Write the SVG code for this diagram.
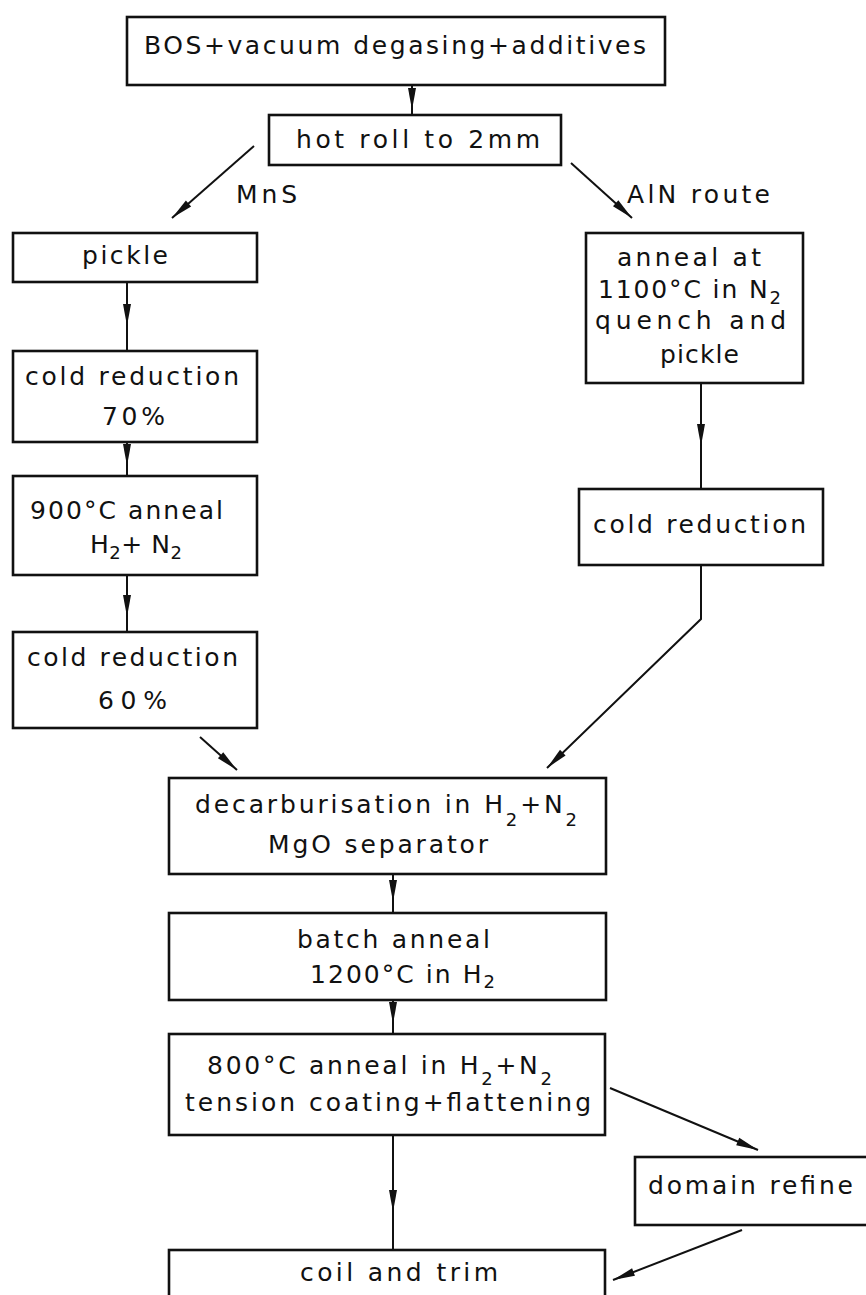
<svg xmlns="http://www.w3.org/2000/svg" width="866" height="1295" viewBox="0 0 866 1295">
<defs>
<style>
.box{fill:none;stroke:#111;stroke-width:2.6}
.con{fill:none;stroke:#111;stroke-width:2}
.t{font-family:"DejaVu Sans","Liberation Sans",sans-serif;font-size:25px;fill:#111}
.s{font-size:18px}
</style>
<marker id="ah" viewBox="-24 -5 26 10" refX="0" refY="0" markerWidth="26" markerHeight="10" markerUnits="userSpaceOnUse" orient="auto">
<path d="M-22,-4 L0,0 L-22,4 Z" fill="#111"/>
</marker>
</defs>
<rect width="866" height="1295" fill="#fff"/>

<g id="connectors">
<path class="con" d="M412,85 L412,110 L412,115" marker-mid="url(#ah)"/>
<path class="con" d="M254,146 L172,218" marker-end="url(#ah)"/>
<path class="con" d="M571,163 L632,218" marker-end="url(#ah)"/>
<path class="con" d="M127,282 L127,326 L127,351" marker-mid="url(#ah)"/>
<path class="con" d="M127,442 L127,466 L127,476" marker-mid="url(#ah)"/>
<path class="con" d="M127,575 L127,617 L127,632" marker-mid="url(#ah)"/>
<path class="con" d="M200,737 L237,770" marker-end="url(#ah)"/>
<path class="con" d="M701,383 L701,446 L701,489" marker-mid="url(#ah)"/>
<path class="con" d="M701,565 L701,619 L547,768" marker-end="url(#ah)"/>
<path class="con" d="M393,874 L393,902 L393,913" marker-mid="url(#ah)"/>
<path class="con" d="M393,1000 L393,1024 L393,1034" marker-mid="url(#ah)"/>
<path class="con" d="M393,1135 L393,1212 L393,1250" marker-mid="url(#ah)"/>
<path class="con" d="M610,1088 L758,1150" marker-end="url(#ah)"/>
<path class="con" d="M742,1230 L613,1280" marker-end="url(#ah)"/>
</g>

<g id="bos">
<rect class="box" x="127" y="17" width="538" height="68"/>
<text class="t" x="144" y="54" textLength="502" lengthAdjust="spacing">BOS+vacuum degasing+additives</text>
</g>
<g id="hotroll">
<rect class="box" x="269" y="115" width="292" height="50"/>
<text class="t" x="296" y="148" textLength="244" lengthAdjust="spacing">hot roll to 2mm</text>
</g>
<text class="t" x="236" y="203" textLength="61" lengthAdjust="spacing">MnS</text>
<text class="t" x="627" y="203" textLength="143" lengthAdjust="spacing">AlN route</text>

<g id="pickle">
<rect class="box" x="13" y="233" width="244" height="49"/>
<text class="t" x="82" y="264" textLength="86" lengthAdjust="spacing">pickle</text>
</g>
<g id="cold70">
<rect class="box" x="13" y="351" width="244" height="91"/>
<text class="t" x="25" y="385" textLength="214" lengthAdjust="spacing">cold reduction</text>
<text class="t" x="102" y="425" textLength="63" lengthAdjust="spacing">70%</text>
</g>
<g id="anneal900">
<rect class="box" x="13" y="476" width="244" height="99"/>
<text class="t" x="30" y="519" textLength="193" lengthAdjust="spacing">900°C anneal</text>
<text class="t" x="90" y="553" textLength="92" lengthAdjust="spacing">H<tspan class="s" dy="6">2</tspan><tspan dy="-6">+</tspan> N<tspan class="s" dy="6">2</tspan></text>
</g>
<g id="cold60">
<rect class="box" x="13" y="632" width="244" height="96"/>
<text class="t" x="27" y="666" textLength="211" lengthAdjust="spacing">cold reduction</text>
<text class="t" x="98" y="709" textLength="69" lengthAdjust="spacing">60%</text>
</g>

<g id="anneal1100">
<rect class="box" x="586" y="233" width="217" height="150"/>
<text class="t" x="617" y="266" textLength="144" lengthAdjust="spacing">anneal at</text>
<text class="t" x="598" y="298" textLength="183" lengthAdjust="spacing">1100°C in N<tspan class="s" dy="6">2</tspan></text>
<text class="t" x="595" y="329" textLength="191" lengthAdjust="spacing">quench and</text>
<text class="t" x="660" y="363" textLength="79" lengthAdjust="spacing">pickle</text>
</g>
<g id="coldR">
<rect class="box" x="579" y="489" width="244" height="76"/>
<text class="t" x="593" y="533" textLength="213" lengthAdjust="spacing">cold reduction</text>
</g>

<g id="decarb">
<rect class="box" x="169" y="778" width="437" height="96"/>
<text class="t" x="195" y="813" textLength="382" lengthAdjust="spacing">decarburisation in H<tspan class="s" dy="13">2</tspan><tspan dy="-13">+</tspan>N<tspan class="s" dy="13">2</tspan></text>
<text class="t" x="268" y="853" textLength="220" lengthAdjust="spacing">MgO separator</text>
</g>
<g id="batch">
<rect class="box" x="169" y="913" width="437" height="87"/>
<text class="t" x="297" y="948" textLength="193" lengthAdjust="spacing">batch anneal</text>
<text class="t" x="310" y="983" textLength="185" lengthAdjust="spacing">1200°C in H<tspan class="s" dy="5">2</tspan></text>
</g>
<g id="anneal800">
<rect class="box" x="169" y="1034" width="436" height="101"/>
<text class="t" x="207" y="1074" textLength="345" lengthAdjust="spacing">800°C anneal in H<tspan class="s" dy="11">2</tspan><tspan dy="-11">+</tspan>N<tspan class="s" dy="11">2</tspan></text>
<text class="t" x="185" y="1111" textLength="406" lengthAdjust="spacing">tension coating+flattening</text>
</g>
<g id="domain">
<rect class="box" x="635" y="1157" width="240" height="68"/>
<text class="t" x="648" y="1194" textLength="205" lengthAdjust="spacing">domain refine</text>
</g>
<g id="coil">
<rect class="box" x="169" y="1250" width="436" height="60"/>
<text class="t" x="300" y="1281" textLength="198" lengthAdjust="spacing">coil and trim</text>
</g>
</svg>
